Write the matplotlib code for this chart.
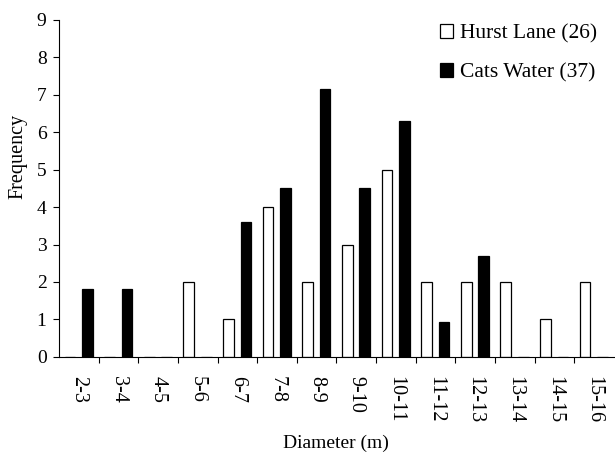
import numpy as np
import matplotlib
matplotlib.use('Agg')
import matplotlib.pyplot as plt

plt.rcParams['font.family'] = ['Liberation Serif', 'DejaVu Serif']
plt.rcParams['font.size'] = 14

categories = ['2-3', '3-4', '4-5', '5-6', '6-7', '7-8', '8-9', '9-10',
              '10-11', '11-12', '12-13', '13-14', '14-15', '15-16']
hurst_lane = [0, 0, 0, 2, 1, 4, 2, 3, 5, 2, 2, 2, 1, 2]
cats_water = [1.8, 1.8, 0, 0, 3.6, 4.5, 7.15, 4.5, 6.3, 0.93, 2.7, 0, 0, 0]

fig = plt.figure(figsize=(6.15, 4.54), dpi=100)
ax = fig.add_axes([0.096, 0.214, 0.902, 0.742])

x = np.arange(len(categories)) + 0.5
w = 0.27
b1 = ax.bar(x - 0.225, hurst_lane, w, color='white', edgecolor='black', linewidth=0.9)
b2 = ax.bar(x + 0.215, cats_water, w, color='black', edgecolor='black', linewidth=0.9)

ax.set_xlim(0, len(categories))
ax.set_ylim(0, 9)
ax.set_yticks(range(10))
ax.set_xticks(np.arange(1, len(categories)))
ax.set_xticks(x, minor=True)
ax.set_xticklabels([])
ax.set_xticklabels(categories, minor=True, rotation=270, fontsize=14.5)
ax.tick_params(axis='x', which='major', direction='out', length=4, width=0.8)
ax.tick_params(axis='x', which='minor', length=0, pad=14)
ax.tick_params(axis='y', direction='out', length=4, width=0.8, pad=5)

ax.spines['top'].set_visible(False)
ax.spines['right'].set_visible(False)

ax.set_xlabel('Diameter (m)', labelpad=8, fontsize=14)
ax.set_ylabel('Frequency', fontsize=14.5)
ax.yaxis.set_label_coords(-0.057, 0.596)

ax.legend([b1, b2], ['Hurst Lane (26)', 'Cats Water (37)'], loc='upper right',
          bbox_to_anchor=(1.005, 1.045), frameon=False, handlelength=0.6,
          handleheight=0.6, labelspacing=0.9, handletextpad=0.35, fontsize=15.5)

fig.savefig('out.png', dpi=100)
